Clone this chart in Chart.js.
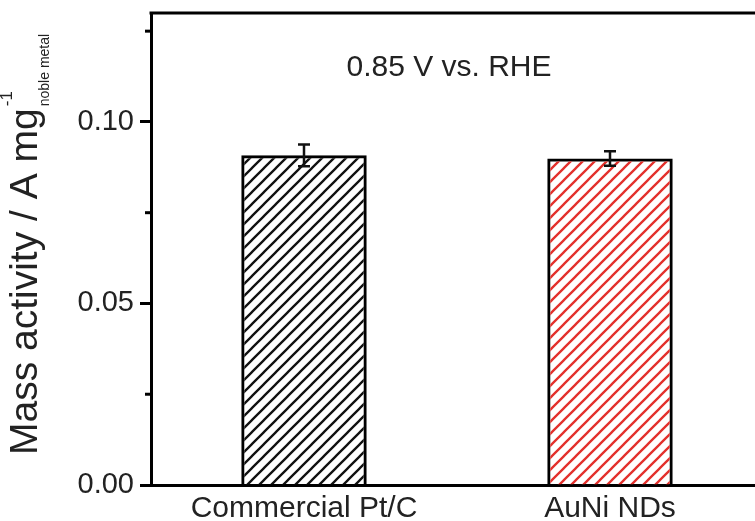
<!DOCTYPE html>
<html>
<head>
<meta charset="utf-8">
<script src="https://cdn.jsdelivr.net/npm/chart.js@4"></script>
<style>
  html, body { margin: 0; padding: 0; background: #fff; overflow: hidden; }
  #wrap { width: 775px; height: 521px; }
</style>
</head>
<body>
<div id="wrap"><canvas id="chart"></canvas></div>
<script>
const categories = ["Commercial Pt/C", "AuNi NDs"];
const massActivity = [0.0908, 0.0899];
const errors = [0.003, 0.002];
const hatchColors = ["#111111", "#e3302c"];
const minorTicks = [0.025, 0.075, 0.125];
const note = "0.85 V vs. RHE";

const FONT = "'Liberation Sans', Arial, sans-serif";

const canvas = document.getElementById("chart");
const ctx = canvas.getContext("2d");

// diagonal "/" hatch tile
function hatch(color) {
  const s = 12;
  const c = document.createElement("canvas");
  c.width = s;
  c.height = s;
  const g = c.getContext("2d");
  g.strokeStyle = color;
  g.lineWidth = 2.3;
  g.beginPath();
  g.moveTo(-s / 2, s / 2); g.lineTo(s / 2, -s / 2);
  g.moveTo(0, s); g.lineTo(s, 0);
  g.moveTo(s / 2, s * 1.5); g.lineTo(s * 1.5, s / 2);
  g.stroke();
  return ctx.createPattern(c, "repeat");
}

const errorBars = {
  id: "errorBars",
  afterDatasetsDraw(chart) {
    const { ctx, scales: { x, y } } = chart;
    ctx.save();
    ctx.strokeStyle = "#111";
    ctx.lineWidth = 2.5;
    massActivity.forEach((v, i) => {
      const px = x.getPixelForValue(i);
      const top = y.getPixelForValue(v + errors[i]);
      const bot = y.getPixelForValue(v - errors[i]);
      ctx.beginPath();
      ctx.moveTo(px, top); ctx.lineTo(px, bot);
      ctx.moveTo(px - 6, top); ctx.lineTo(px + 6, top);
      ctx.moveTo(px - 6, bot); ctx.lineTo(px + 6, bot);
      ctx.stroke();
    });
    ctx.restore();
  },
};

const frame = {
  id: "frame",
  afterDraw(chart) {
    const { ctx, chartArea: a, scales: { y } } = chart;
    ctx.save();
    ctx.strokeStyle = "#000";
    ctx.lineWidth = 3;
    // top border
    ctx.beginPath();
    ctx.moveTo(a.left - 1.5, a.top);
    ctx.lineTo(a.right + 20, a.top);
    ctx.stroke();
    // minor ticks
    minorTicks.forEach((v) => {
      const py = y.getPixelForValue(v);
      ctx.beginPath();
      ctx.moveTo(a.left - 6, py);
      ctx.lineTo(a.left, py);
      ctx.stroke();
    });
    // condition note
    ctx.fillStyle = "#222";
    ctx.font = "30px " + FONT;
    ctx.textAlign = "center";
    ctx.textBaseline = "middle";
    ctx.fillText(note, 449, 68);

    // y title with super/subscript
    ctx.translate(37, 455);
    ctx.rotate(-Math.PI / 2);
    ctx.textAlign = "left";
    ctx.textBaseline = "alphabetic";
    ctx.font = "39px " + FONT;
    const main = "Mass activity / A mg";
    ctx.fillText(main, 0, 0);
    const w = ctx.measureText(main).width + 2;
    ctx.font = "17px " + FONT;
    ctx.fillText("-1", w, -25);
    ctx.font = "14px " + FONT;
    ctx.fillText("noble metal", w, 12);
    ctx.restore();
  },
};

new Chart(ctx, {
  type: "bar",
  data: {
    labels: categories,
    datasets: [
      {
        data: massActivity,
        backgroundColor: hatchColors.map(hatch),
        borderColor: "#000",
        borderWidth: 3,
        barPercentage: 0.41,
        categoryPercentage: 1,
      },
    ],
  },
  options: {
    responsive: true,
    maintainAspectRatio: false,
    animation: false,
    devicePixelRatio: 1,
    layout: { padding: { top: 13, right: 12, left: 0, bottom: 0 } },
    plugins: { legend: { display: false }, tooltip: { enabled: false } },
    scales: {
      x: {
        offset: true,
        grid: { display: false, drawTicks: false },
        border: { color: "#000", width: 3 },
        ticks: { color: "#222", padding: 6, font: { family: FONT, size: 30 } },
        afterFit(scale) { scale.height = 36; },
      },
      y: {
        min: 0,
        max: 0.13,
        grid: { drawOnChartArea: false, drawTicks: true, tickLength: 11, tickColor: "#000", tickWidth: 3 },
        border: { color: "#000", width: 3 },
        ticks: {
          stepSize: 0.05,
          includeBounds: false,
          padding: 6,
          color: "#222",
          font: { family: FONT, size: 29 },
          callback: (v) => v.toFixed(2),
        },
        afterFit(scale) {
          scale.width = 151;
          scale.paddingTop = 0;
          scale.paddingBottom = 0;
        },
      },
    },
  },
  plugins: [errorBars, frame],
});
</script>
</body>
</html>
